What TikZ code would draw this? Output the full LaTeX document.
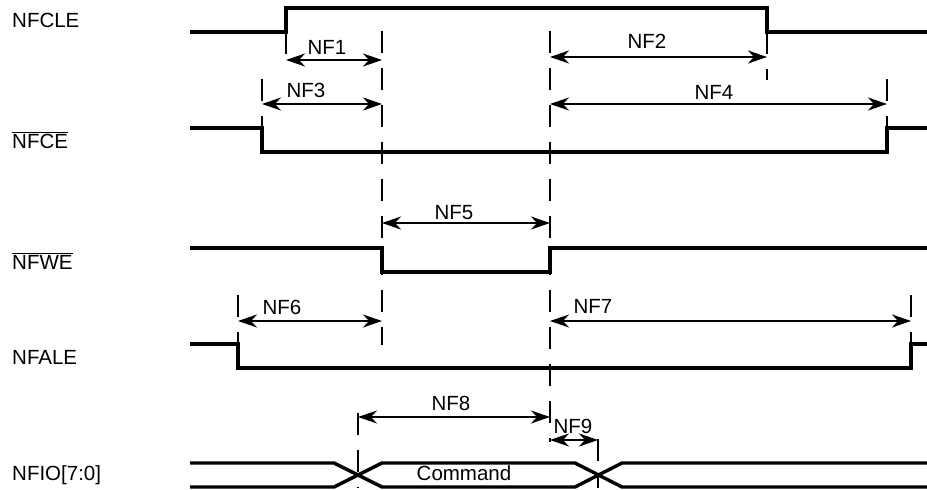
\documentclass[tikz,border=0pt]{standalone}
\usepackage{fontspec}
\setmainfont{Liberation Sans}
\usetikzlibrary{positioning,arrows.meta}

\tikzset{
  sig/.style={line width=3.4pt},
  guide/.style={line width=2.4pt, dash pattern=on 22pt off 15pt},
  span/.style={line width=2.3pt,
    {Stealth[length=19pt,width=13pt,inset=6pt]}-{Stealth[length=19pt,width=13pt,inset=6pt]}},
  lbl/.style={inner sep=0pt, anchor=base, font=\fontsize{20.5}{24}\selectfont},
  sname/.style={lbl, anchor=base west},
}

\begin{document}
\begin{tikzpicture}[x=1pt,y=-1pt]
\useasboundingbox (0,0) rectangle (927,490);

% signal names
\node[sname] (CLE) at (12,27) {NFCLE};
\node[sname] (CE) at (12,148) {$\overline{\mbox{NFCE}}$};
\node[sname] (WE) at (12,269) {$\overline{\mbox{NFWE}}$};
\node[sname] (ALE) at (12,364) {NFALE};
\node[sname] (IO) at (12,480) {NFIO[7:0]};

% waveforms
\draw[sig] (190,32) -- (286,32) -- (286,8) -- (767,8) -- (767,32) -- (927,32);
\draw[sig] (190,128) -- (262,128) -- (262,152) -- (887,152) -- (887,128) -- (927,128);
\draw[sig] (190,248) -- (382,248) -- (382,272) -- (550,272) -- (550,248) -- (927,248);
\draw[sig] (190,344) -- (238,344) -- (238,368) -- (911,368) -- (911,344) -- (927,344);
\draw[sig] (190,463) -- (334,463) -- (382,487) -- (575,487) -- (622,463) -- (927,463);
\draw[sig] (190,487) -- (334,487) -- (382,463) -- (575,463) -- (622,487) -- (927,487);
\node[lbl] (CMD) at (464,480) {Command};

% guide lines
\coordinate (G1t) at (286,32);   \coordinate (G1b) at (286,62);
\coordinate (G2t) at (262,79);   \coordinate (G2b) at (262,128);
\coordinate (G3t) at (382,31);   \coordinate (G3b) at (382,345);
\coordinate (G4t) at (550,31);   \coordinate (G4b) at (550,442);
\coordinate (G5t) at (767,32);   \coordinate (G5b) at (767,80);
\coordinate (G6t) at (887,79);   \coordinate (G6b) at (887,128);
\coordinate (G7t) at (238,295);  \coordinate (G7b) at (238,344);
\coordinate (G8t) at (911,295);  \coordinate (G8b) at (911,344);
\coordinate (G9t) at (358,413);  \coordinate (G9b) at (358,488);
\coordinate (G10t) at (598,439); \coordinate (G10b) at (598,488);

\draw[guide] (G1t) -- (G1b);
\draw[guide] (G2t) -- (G2b);
\draw[guide] (G3t) -- (G3b);
\draw[guide] (G4t) -- (G4b);
\draw[guide] (G5t) -- (G5b);
\draw[guide] (G6t) -- (G6b);
\draw[guide] (G7t) -- (G7b);
\draw[guide] (G8t) -- (G8b);
\draw[guide] (G9t) -- (G9b);
\draw[guide] (G10t) -- (G10b);

% timing spans
\coordinate (NF1l) at (286,60);  \coordinate (NF1r) at (382,60);
\coordinate (NF2l) at (550,57);  \coordinate (NF2r) at (767,57);
\coordinate (NF3l) at (262,104); \coordinate (NF3r) at (382,104);
\coordinate (NF4l) at (550,104); \coordinate (NF4r) at (887,104);
\coordinate (NF5l) at (382,223); \coordinate (NF5r) at (550,223);
\coordinate (NF6l) at (238,321); \coordinate (NF6r) at (382,321);
\coordinate (NF7l) at (550,321); \coordinate (NF7r) at (911,321);
\coordinate (NF8l) at (358,417); \coordinate (NF8r) at (550,417);
\coordinate (NF9l) at (550,440); \coordinate (NF9r) at (598,440);

\draw[span] (NF1l) -- (NF1r);
\draw[span] (NF2l) -- (NF2r);
\draw[span] (NF3l) -- (NF3r);
\draw[span] (NF4l) -- (NF4r);
\draw[span] (NF5l) -- (NF5r);
\draw[span] (NF6l) -- (NF6r);
\draw[span] (NF7l) -- (NF7r);
\draw[span] (NF8l) -- (NF8r);
\draw[span] (NF9l) -- (NF9r);

\node[lbl] (NF1) at (327,54) {NF1};
\node[lbl] (NF2) at (647,48) {NF2};
\node[lbl] (NF3) at (306,97) {NF3};
\node[lbl] (NF4) at (714,99) {NF4};
\node[lbl] (NF5) at (454,219) {NF5};
\node[lbl] (NF6) at (282,314) {NF6};
\node[lbl] (NF7) at (593,313) {NF7};
\node[lbl] (NF8) at (451,410) {NF8};
\node[lbl] (NF9) at (573,433) {NF9};

\end{tikzpicture}
\end{document}
